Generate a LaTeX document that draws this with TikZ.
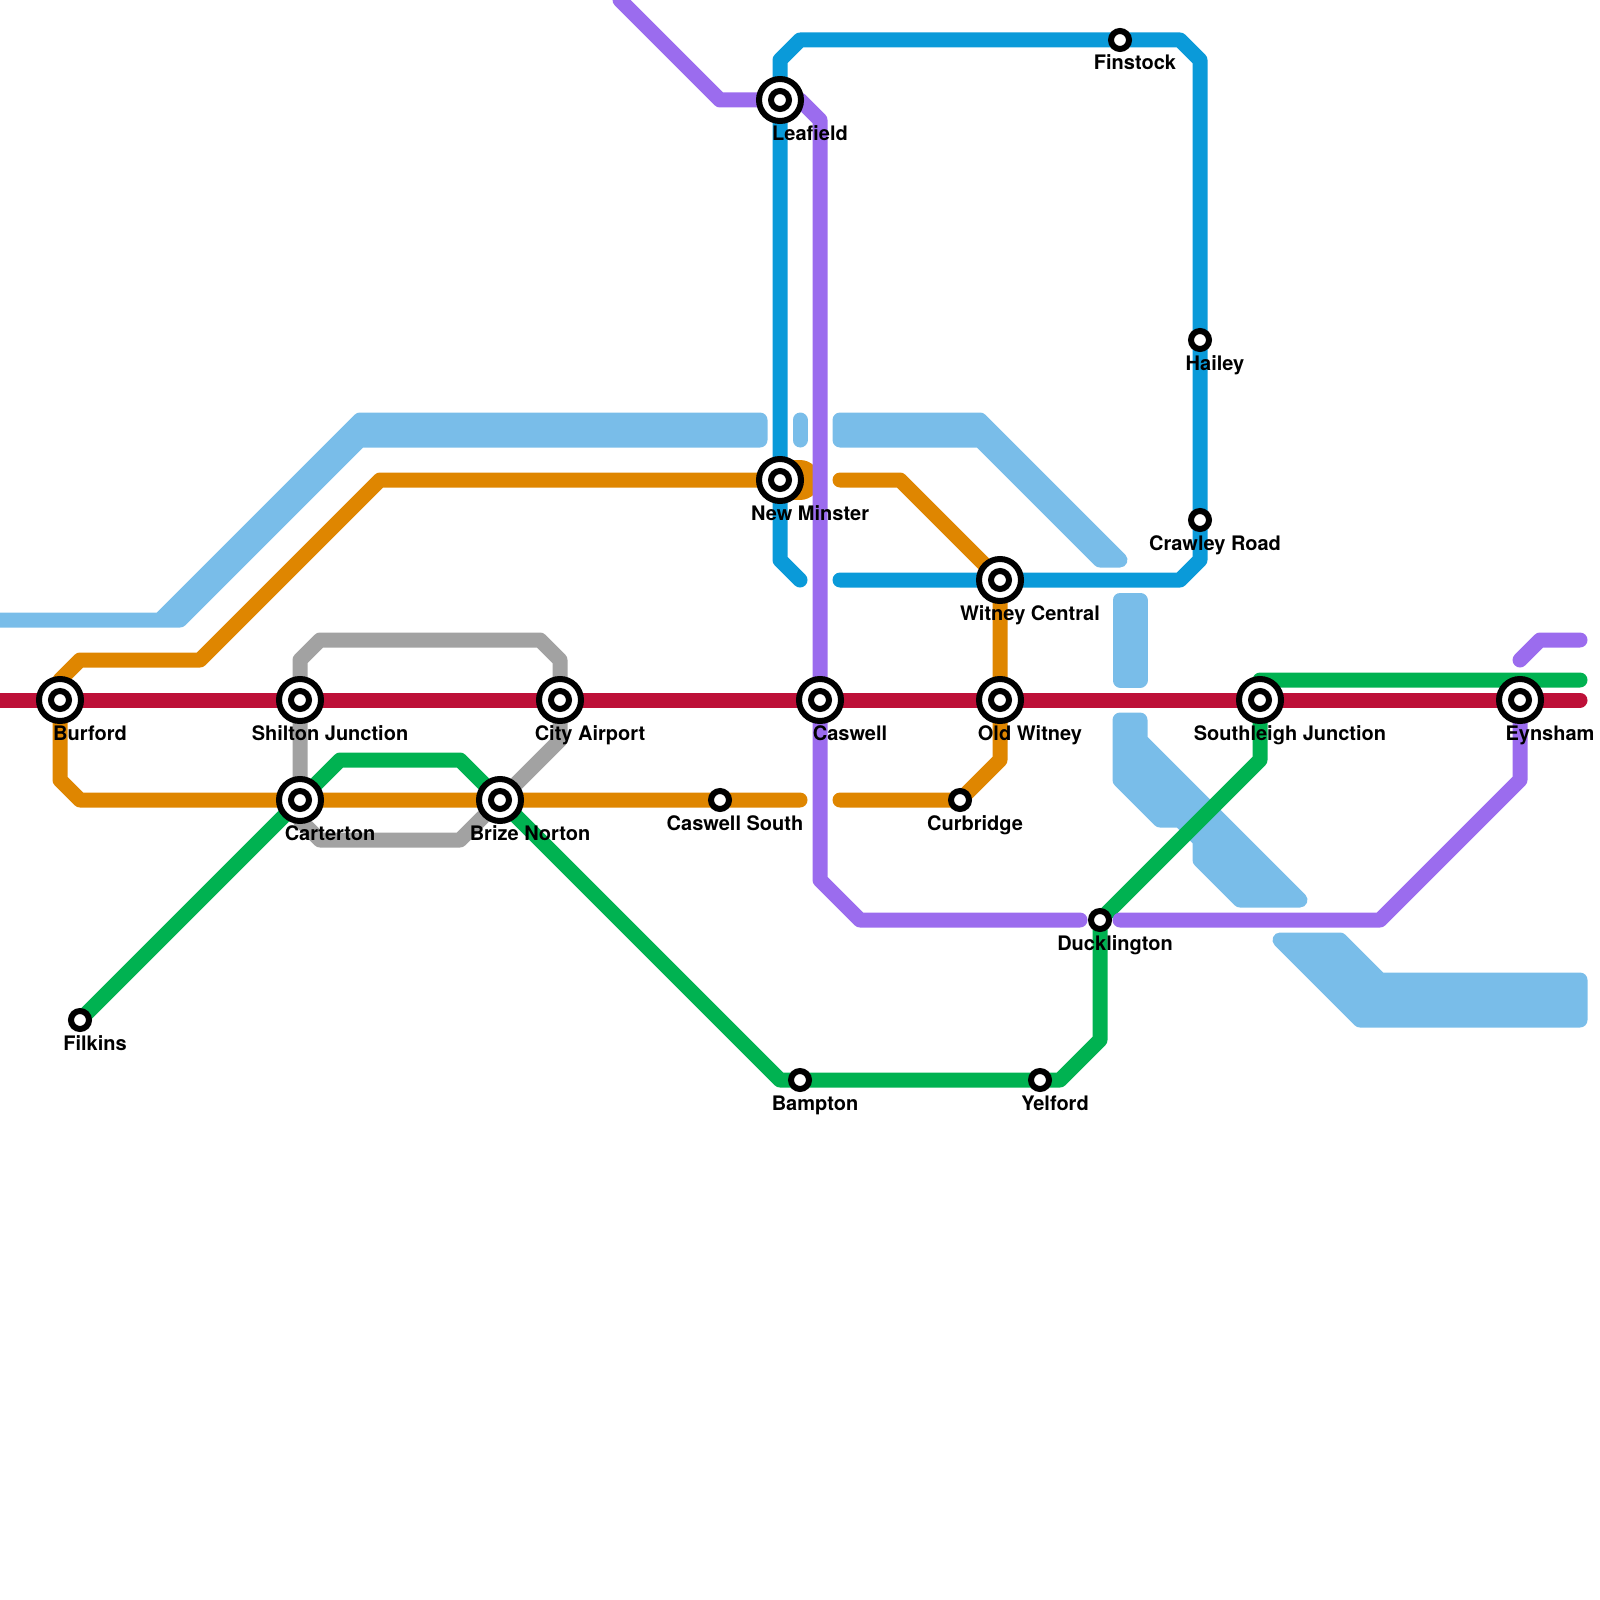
\documentclass[tikz,border=0pt]{standalone}
\usepackage{fontspec}
\setmainfont{TeX Gyre Heros}
\definecolor{riverblue}{HTML}{79BDE9}
\definecolor{redline}{HTML}{BD1038}
\definecolor{orangeline}{HTML}{DF8600}
\definecolor{greenline}{HTML}{00B251}
\definecolor{blueline}{HTML}{0A9AD9}
\definecolor{purpleline}{HTML}{9B6CEE}
\definecolor{greyline}{HTML}{A2A2A2}
\begin{document}
\begin{tikzpicture}[x=1pt,y=-1pt,
    river/.style={draw=riverblue,fill=riverblue,line width=15pt,line join=round,line cap=round},
    railway/.style={line width=15pt,line join=round,line cap=round},
    hub/.style={circle,draw=black,fill=white,line width=6pt,minimum size=42pt,inner sep=0pt,
        path picture={\draw[black,line width=6pt](path picture bounding box.center)circle(9pt);}},
    halt/.style={circle,draw=black,fill=white,line width=6pt,minimum size=18pt,inner sep=0pt},
    hublabel/.style={anchor=base,xshift=30pt,yshift=-40pt,inner sep=0pt,font=\fontsize{20}{24}\selectfont\bfseries},
    haltlabel/.style={anchor=base,xshift=15pt,yshift=-30pt,inner sep=0pt,font=\fontsize{20}{24}\selectfont\bfseries}]
    \useasboundingbox(0,0)rectangle(1600,1600);
    % stations
    \coordinate(Burford)at(60,700);
    \coordinate(Shilton)at(300,700);
    \coordinate(Airport)at(560,700);
    \coordinate(Caswell)at(820,700);
    \coordinate(OldWitney)at(1000,700);
    \coordinate(Southleigh)at(1260,700);
    \coordinate(Eynsham)at(1520,700);
    \coordinate(Carterton)at(300,800);
    \coordinate(Brize)at(500,800);
    \coordinate(Leafield)at(780,100);
    \coordinate(Minster)at(780,480);
    \coordinate(WitneyC)at(1000,580);
    \coordinate(Filkins)at(80,1020);
    \coordinate(CaswellS)at(720,800);
    \coordinate(Curbridge)at(960,800);
    \coordinate(Bampton)at(800,1080);
    \coordinate(Yelford)at(1040,1080);
    \coordinate(Ducklington)at(1100,920);
    \coordinate(Finstock)at(1120,40);
    \coordinate(Hailey)at(1200,340);
    \coordinate(Crawley)at(1200,520);
    % water
    \draw[river](0,620)--(160,620)--(360,420)--(760,420)--(760,440)--(360,440)--(180,620)--cycle;
    \draw[river](800,420)--(800,440);
    \draw[river](840,420)--(980,420)--(1120,560)--(1100,560)--(980,440)--(840,440)--cycle;
    \draw[river](1120,600)--(1140,600)--(1140,680)--(1120,680)--cycle;
    \draw[river](1120,720)--(1140,720)--(1140,740)--(1300,900)--(1240,900)--(1200,860)--(1200,840)--(1180,820)--(1160,820)--(1120,780)--cycle;
    \draw[river](1280,940)--(1340,940)--(1380,980)--(1580,980)--(1580,1020)--(1360,1020)--cycle;
    % lines
    \draw[railway,greyline](Carterton)--(Shilton)--(300,660)--(320,640)--(540,640)--(560,660)--(Airport)--(560,740)--(Brize)--(460,840)--(320,840)--(300,820)--cycle;
    \draw[railway,orangeline](Burford)--(60,680)--(80,660)--(200,660)--(380,480)--(Minster);
    \draw[orangeline,line width=40pt,line cap=round](Minster)--(800,480);
    \draw[railway,orangeline](Burford)--(60,780)--(80,800)--(Carterton)--(Brize)--(CaswellS)--(800,800);
    \draw[railway,orangeline](840,480)--(900,480)--(WitneyC)--(OldWitney)--(1000,760)--(Curbridge)--(840,800);
    \draw[railway,blueline](800,580)--(780,560)--(Minster)--(Leafield)--(780,60)--(800,40)--(Finstock)--(1180,40)--(1200,60)--(Hailey)--(Crawley)--(1200,560)--(1180,580)--(WitneyC)--(840,580);
    \draw[railway,greenline](Filkins)--(Carterton)--(340,760)--(460,760)--(Brize)--(780,1080)--(Bampton)--(Yelford)--(1060,1080)--(1100,1040)--(Ducklington)--(1260,760)--(Southleigh)--(1260,680)--(1580,680);
    \draw[railway,purpleline](620,0)--(720,100)--(Leafield)--(800,100)--(820,120)--(Caswell)--(820,880)--(860,920)--(1080,920);
    \draw[railway,purpleline](1120,920)--(1380,920)--(1520,780)--(Eynsham);
    \draw[railway,purpleline](1520,660)--(1540,640)--(1580,640);
    \draw[railway,redline,line cap=butt](0,700)--(1500,700);
    \draw[railway,redline](Burford)--(Shilton)--(Airport)--(Caswell)--(OldWitney)--(Southleigh)--(Eynsham)--(1580,700);
    % interchanges
    \node[hub](BurfordHub)at(Burford){};
    \node[hublabel](BurfordName)at(Burford){Burford};
    \node[hub](ShiltonHub)at(Shilton){};
    \node[hublabel](ShiltonName)at(Shilton){Shilton Junction};
    \node[hub](AirportHub)at(Airport){};
    \node[hublabel](AirportName)at(Airport){City Airport};
    \node[hub](CaswellHub)at(Caswell){};
    \node[hublabel](CaswellName)at(Caswell){Caswell};
    \node[hub](OldWitneyHub)at(OldWitney){};
    \node[hublabel](OldWitneyName)at(OldWitney){Old Witney};
    \node[hub](SouthleighHub)at(Southleigh){};
    \node[hublabel](SouthleighName)at(Southleigh){Southleigh Junction};
    \node[hub](EynshamHub)at(Eynsham){};
    \node[hublabel](EynshamName)at(Eynsham){Eynsham};
    \node[hub](CartertonHub)at(Carterton){};
    \node[hublabel](CartertonName)at(Carterton){Carterton};
    \node[hub](BrizeHub)at(Brize){};
    \node[hublabel](BrizeName)at(Brize){Brize Norton};
    \node[hub](LeafieldHub)at(Leafield){};
    \node[hublabel](LeafieldName)at(Leafield){Leafield};
    \node[hub](MinsterHub)at(Minster){};
    \node[hublabel](MinsterName)at(Minster){New Minster};
    \node[hub](WitneyCHub)at(WitneyC){};
    \node[hublabel](WitneyCName)at(WitneyC){Witney Central};
    % plain stops
    \node[halt](FilkinsStop)at(Filkins){};
    \node[haltlabel](FilkinsName)at(Filkins){Filkins};
    \node[halt](CaswellSStop)at(CaswellS){};
    \node[haltlabel](CaswellSName)at(CaswellS){Caswell South};
    \node[halt](CurbridgeStop)at(Curbridge){};
    \node[haltlabel](CurbridgeName)at(Curbridge){Curbridge};
    \node[halt](BamptonStop)at(Bampton){};
    \node[haltlabel](BamptonName)at(Bampton){Bampton};
    \node[halt](YelfordStop)at(Yelford){};
    \node[haltlabel](YelfordName)at(Yelford){Yelford};
    \node[halt](DucklingtonStop)at(Ducklington){};
    \node[haltlabel](DucklingtonName)at(Ducklington){Ducklington};
    \node[halt](FinstockStop)at(Finstock){};
    \node[haltlabel](FinstockName)at(Finstock){Finstock};
    \node[halt](HaileyStop)at(Hailey){};
    \node[haltlabel](HaileyName)at(Hailey){Hailey};
    \node[halt](CrawleyStop)at(Crawley){};
    \node[haltlabel](CrawleyName)at(Crawley){Crawley Road};
\end{tikzpicture}
\end{document}
